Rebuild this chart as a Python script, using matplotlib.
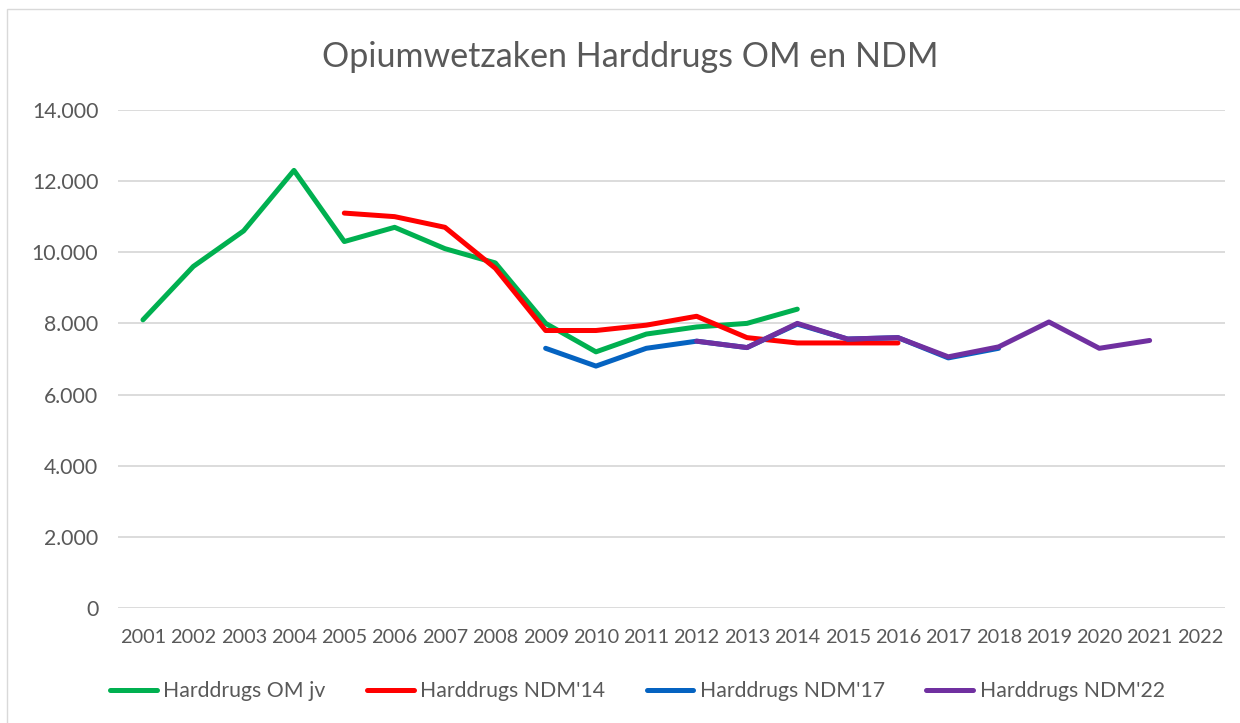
import matplotlib.pyplot as plt
from matplotlib.ticker import FuncFormatter
import matplotlib.patches as mpatches

plt.rcParams['font.family'] = ['Lato', 'DejaVu Sans']

years = [str(y) for y in range(2001, 2023)]

om_years = list(range(2001, 2015))
om_vals = [8100, 9600, 10600, 12300, 10300, 10700, 10100, 9700, 8000, 7200, 7700, 7900, 8000, 8400]

ndm14_years = list(range(2005, 2017))
ndm14_vals = [11100, 11000, 10700, 9550, 7800, 7800, 7950, 8200, 7600, 7450, 7450, 7450]

ndm17_years = list(range(2009, 2019))
ndm17_vals = [7300, 6800, 7300, 7500, 7320, 7980, 7560, 7600, 7030, 7300]

ndm22_years = list(range(2012, 2022))
ndm22_vals = [7500, 7320, 8000, 7560, 7600, 7060, 7340, 8040, 7300, 7520]

series = [
    ("Harddrugs OM jv", om_years, om_vals, "#00B050"),
    ("Harddrugs NDM'14", ndm14_years, ndm14_vals, "#FF0000"),
    ("Harddrugs NDM'17", ndm17_years, ndm17_vals, "#0563C1"),
    ("Harddrugs NDM'22", ndm22_years, ndm22_vals, "#7030A0"),
]

fig = plt.figure(figsize=(12.4, 7.23), dpi=100)
ax = fig.add_axes([0.095, 0.159, 0.893, 0.689])

for label, xs, vals, color in series:
    pos = [x - 2001 for x in xs]
    ax.plot(pos, vals, color=color, linewidth=3.6, label=label,
            solid_capstyle="round", solid_joinstyle="round")

ax.set_xlim(-0.5, len(years) - 0.5)
ax.set_ylim(0, 14000)
ax.set_yticks(range(0, 14001, 2000))
ax.yaxis.set_major_formatter(FuncFormatter(lambda v, p: f"{int(v):,}".replace(",", ".")))
ax.set_xticks(range(len(years)))
ax.set_xticklabels(years)
ax.tick_params(axis="both", length=0, labelcolor="#595959")
ax.tick_params(axis="x", pad=15, labelsize=14.3)
ax.tick_params(axis="y", pad=14, labelsize=15.3)

ax.grid(axis="y", color="#d9d9d9", linewidth=1.3)
ax.set_axisbelow(True)
for s in ax.spines.values():
    s.set_visible(False)

fig.text(0.508, 0.921, "Opiumwetzaken Harddrugs OM en NDM", ha="center", va="center",
         fontsize=24.5, color="#595959")

fig.legend(loc="center", bbox_to_anchor=(0.514, 0.044), ncol=4, frameon=False,
           fontsize=15.3, labelcolor="#595959", handlelength=2.2,
           columnspacing=1.95, handletextpad=0.3)

fig.patches.append(mpatches.Rectangle((0.006, -0.01), 1.2, 0.997, transform=fig.transFigure,
                                      fill=False, edgecolor="#d9d9d9", linewidth=1))

fig.savefig("out.png", dpi=100, facecolor="white")
